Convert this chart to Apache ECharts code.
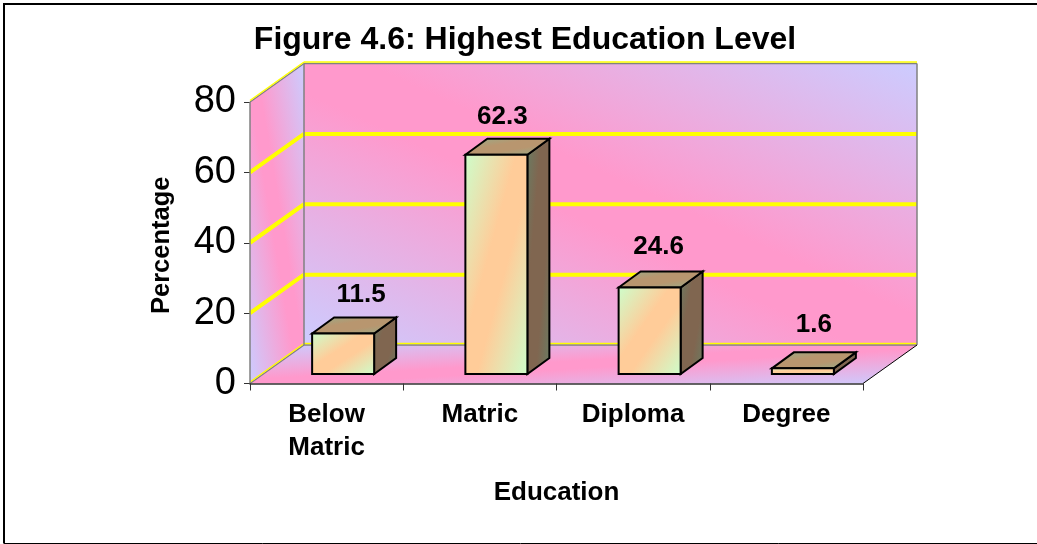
<!DOCTYPE html>
<html>
<head>
<meta charset="utf-8">
<title>Figure 4.6</title>
<script src="https://cdn.jsdelivr.net/npm/echarts@6/dist/echarts.min.js"></script>
<style>
html, body { margin: 0; padding: 0; background: #fff; }
#chart { width: 1037px; height: 544px; }
</style>
</head>
<body>
<div id="chart"></div>
<script>
const categories = ["Below\nMatric", "Matric", "Diploma", "Degree"];
const percentages = [11.5, 62.3, 24.6, 1.6];
const yTicks = [0, 20, 40, 60, 80];

const chartFont = "Liberation Sans";
// depth of the fake 3D box, in pixels
const depthX = 54;
const depthY = -38.5;
// bars sit part way into the box
const barInsetX = 16.5;
const barInsetY = -9.5;
const barDepthX = 22;
const barDepthY = -16;
const barWidth = 62;
// value labels were placed by hand in the original, so each has its own nudge
const labelNudgeX = [18, 6, 9, 11];
const labelNudgeY = [-39, -38, -41, -44];

const lavender = "#ccccff";
const pink = "#ff99cc";

// gradient whose colour bands run parallel to one diagonal of the box
function diagGradient(w, h, stops, flip) {
  const L2 = w * w + h * h;
  const dx = (2 * h * h) / L2;
  const dy = (2 * w * w) / L2;
  if (flip) {
    return new echarts.graphic.LinearGradient(0.5 - dx / 2, 0.5 - dy / 2, 0.5 + dx / 2, 0.5 + dy / 2, stops);
  }
  return new echarts.graphic.LinearGradient(0.5 - dx / 2, 0.5 + dy / 2, 0.5 + dx / 2, 0.5 - dy / 2, stops);
}

// edge colour a, middle colour b held for a band of width 2 * pad
function threeStops(a, b, pad) {
  return [
    { offset: 0, color: a },
    { offset: 0.5 - pad, color: b },
    { offset: 0.5 + pad, color: b },
    { offset: 1, color: a },
  ];
}

function poly(points, fill, stroke, lineWidth) {
  return {
    type: "polygon",
    shape: { points: points },
    style: { fill: fill, stroke: stroke, lineWidth: lineWidth || 0 },
  };
}

function line(a, b, color, width) {
  return {
    type: "line",
    shape: { x1: a[0], y1: a[1], x2: b[0], y2: b[1] },
    style: { stroke: color, lineWidth: width },
  };
}

// walls, floor and yellow grid lines, one pass only
function renderBox(params, api) {
  if (params.dataIndex !== 0) return null;
  const n = categories.length;
  const left = api.coord([0, 0])[0] - api.size([1, 0])[0] / 2;
  const right = left + api.size([1, 0])[0] * n;
  const y0 = api.coord([0, yTicks[0]])[1];
  const yTop = api.coord([0, yTicks[yTicks.length - 1]])[1];
  const w = right - left;
  const h = y0 - yTop;

  const children = [
    poly(
      [[left + depthX, yTop + depthY], [right + depthX, yTop + depthY], [right + depthX, y0 + depthY], [left + depthX, y0 + depthY]],
      diagGradient(w, h, threeStops(lavender, pink, 0.05))
    ),
    poly(
      [[left, yTop], [left + depthX, yTop + depthY], [left + depthX, y0 + depthY], [left, y0]],
      diagGradient(depthX, h - depthY, threeStops(lavender, pink, 0.05))
    ),
    poly(
      [[left, y0], [left + depthX, y0 + depthY], [right + depthX, y0 + depthY], [right, y0]],
      diagGradient(w + depthX, -depthY, threeStops(lavender, pink, 0.05), true)
    ),
  ];

  yTicks.forEach(function (t) {
    const y = api.coord([0, t])[1];
    const thin = t === yTicks[0] || t === yTicks[yTicks.length - 1];
    const lw = thin ? 1.5 : 4;
    children.push(line([left, y], [left + depthX, y + depthY], thin ? "#808080" : "#ffff00", lw));
    children.push(line([left + depthX, y + depthY], [right + depthX, y + depthY], thin ? "#808080" : "#ffff00", lw));
    if (thin) {
      children.push(line([left, y - 1.5], [left + depthX, y + depthY - 1.5], "#ffff00", 1.5));
      children.push(line([left + depthX, y + depthY - 1.5], [right + depthX, y + depthY - 1.5], "#ffff00", 1.5));
    }
  });
  children.push(line([left + depthX, yTop + depthY], [left + depthX, y0 + depthY], "#808080", 1.5));
  children.push(line([right + depthX, yTop + depthY], [right + depthX, y0 + depthY], "#808080", 1.5));
  children.push(line([left, yTop], [left, y0], "#808080", 1.5));
  children.push(line([right, y0], [right + depthX, y0 + depthY], "#000000", 1));
  return { type: "group", children: children };
}

function renderBar(params, api) {
  const c = api.coord([api.value(0), 0]);
  const t = api.coord([api.value(0), api.value(1)]);
  const x0 = c[0] + barInsetX - barWidth / 2;
  const x1 = x0 + barWidth;
  const yb = c[1] + barInsetY;
  const yt = t[1] + barInsetY;
  const h = yb - yt;
  const stroke = "#000000";
  return {
    type: "group",
    children: [
      poly([[x1, yt], [x1 + barDepthX, yt + barDepthY], [x1 + barDepthX, yb + barDepthY], [x1, yb]],
        diagGradient(barDepthX, h - barDepthY, threeStops("#668066", "#806650", 0.15), true), stroke, 2),
      poly([[x0, yt], [x0 + barDepthX, yt + barDepthY], [x1 + barDepthX, yt + barDepthY], [x1, yt]],
        diagGradient(barWidth + barDepthX, -barDepthY, threeStops("#8fb28f", "#b8966f", 0.1), true), stroke, 2),
      poly([[x0, yt], [x1, yt], [x1, yb], [x0, yb]],
        diagGradient(barWidth, h, threeStops("#ccffcc", "#ffcc99", 0.08), true), stroke, 2),
      {
        type: "text",
        style: {
          x: x0 + barWidth / 2 + labelNudgeX[params.dataIndex],
          y: yt + labelNudgeY[params.dataIndex],
          text: String(api.value(1)),
          fill: "#000",
          font: "bold 26px " + chartFont,
          textAlign: "center",
          textVerticalAlign: "middle",
        },
      },
    ],
  };
}

const chart = echarts.init(document.getElementById("chart"), null, { renderer: "canvas" });
chart.setOption({
  animation: false,
  backgroundColor: "#ffffff",
  textStyle: { fontFamily: chartFont },
  title: {
    text: "Figure 4.6: Highest Education Level",
    left: 520,
    top: 19,
    textAlign: "center",
    textStyle: { fontFamily: chartFont, fontSize: 32, fontWeight: "bold", color: "#000" },
  },
  grid: { left: 250, right: 174, top: 102, bottom: 160.5 },
  xAxis: {
    type: "category",
    data: categories,
    name: "Education",
    nameLocation: "middle",
    nameGap: 96,
    nameTextStyle: { fontSize: 26, fontWeight: "bold", color: "#000", fontFamily: chartFont },
    axisLine: { lineStyle: { color: "#333333", width: 1.5 } },
    axisTick: { show: true, alignWithLabel: false, length: 7, lineStyle: { color: "#333333", width: 1 } },
    axisLabel: { fontSize: 26, fontWeight: "bold", color: "#000", margin: 15, lineHeight: 33, fontFamily: chartFont },
    z: 5,
  },
  yAxis: {
    type: "value",
    min: 0,
    max: 80,
    interval: 20,
    name: "Percentage",
    nameLocation: "middle",
    nameGap: 75,
    nameTextStyle: { fontSize: 25.5, fontWeight: "bold", color: "#000", fontFamily: chartFont, padding: [0, 5, 0, 0] },
    axisLine: { show: false },
    axisTick: { show: true, length: 6, lineStyle: { color: "#333333", width: 1 } },
    axisLabel: { fontSize: 38, color: "#000", margin: 14, fontFamily: chartFont },
    splitLine: { show: false },
  },
  series: [
    {
      type: "custom",
      renderItem: renderBox,
      data: percentages.map((v, i) => [i, v]),
      encode: { x: 0, y: 1 },
      silent: true,
      z: 1,
    },
    {
      type: "custom",
      renderItem: renderBar,
      data: percentages.map((v, i) => [i, v]),
      encode: { x: 0, y: 1 },
      clip: false,
      z: 2,
    },
  ],
  graphic: [
    {
      type: "polyline",
      shape: { points: [[4, 543.5], [4, 4], [1037, 4]] },
      style: { fill: "none", stroke: "#000", lineWidth: 2 },
      silent: true,
    },
    {
      type: "line",
      shape: { x1: 4, y1: 543.5, x2: 1037, y2: 543.5 },
      style: { stroke: "#000", lineWidth: 1 },
      silent: true,
    },
  ],
});
</script>
</body>
</html>
